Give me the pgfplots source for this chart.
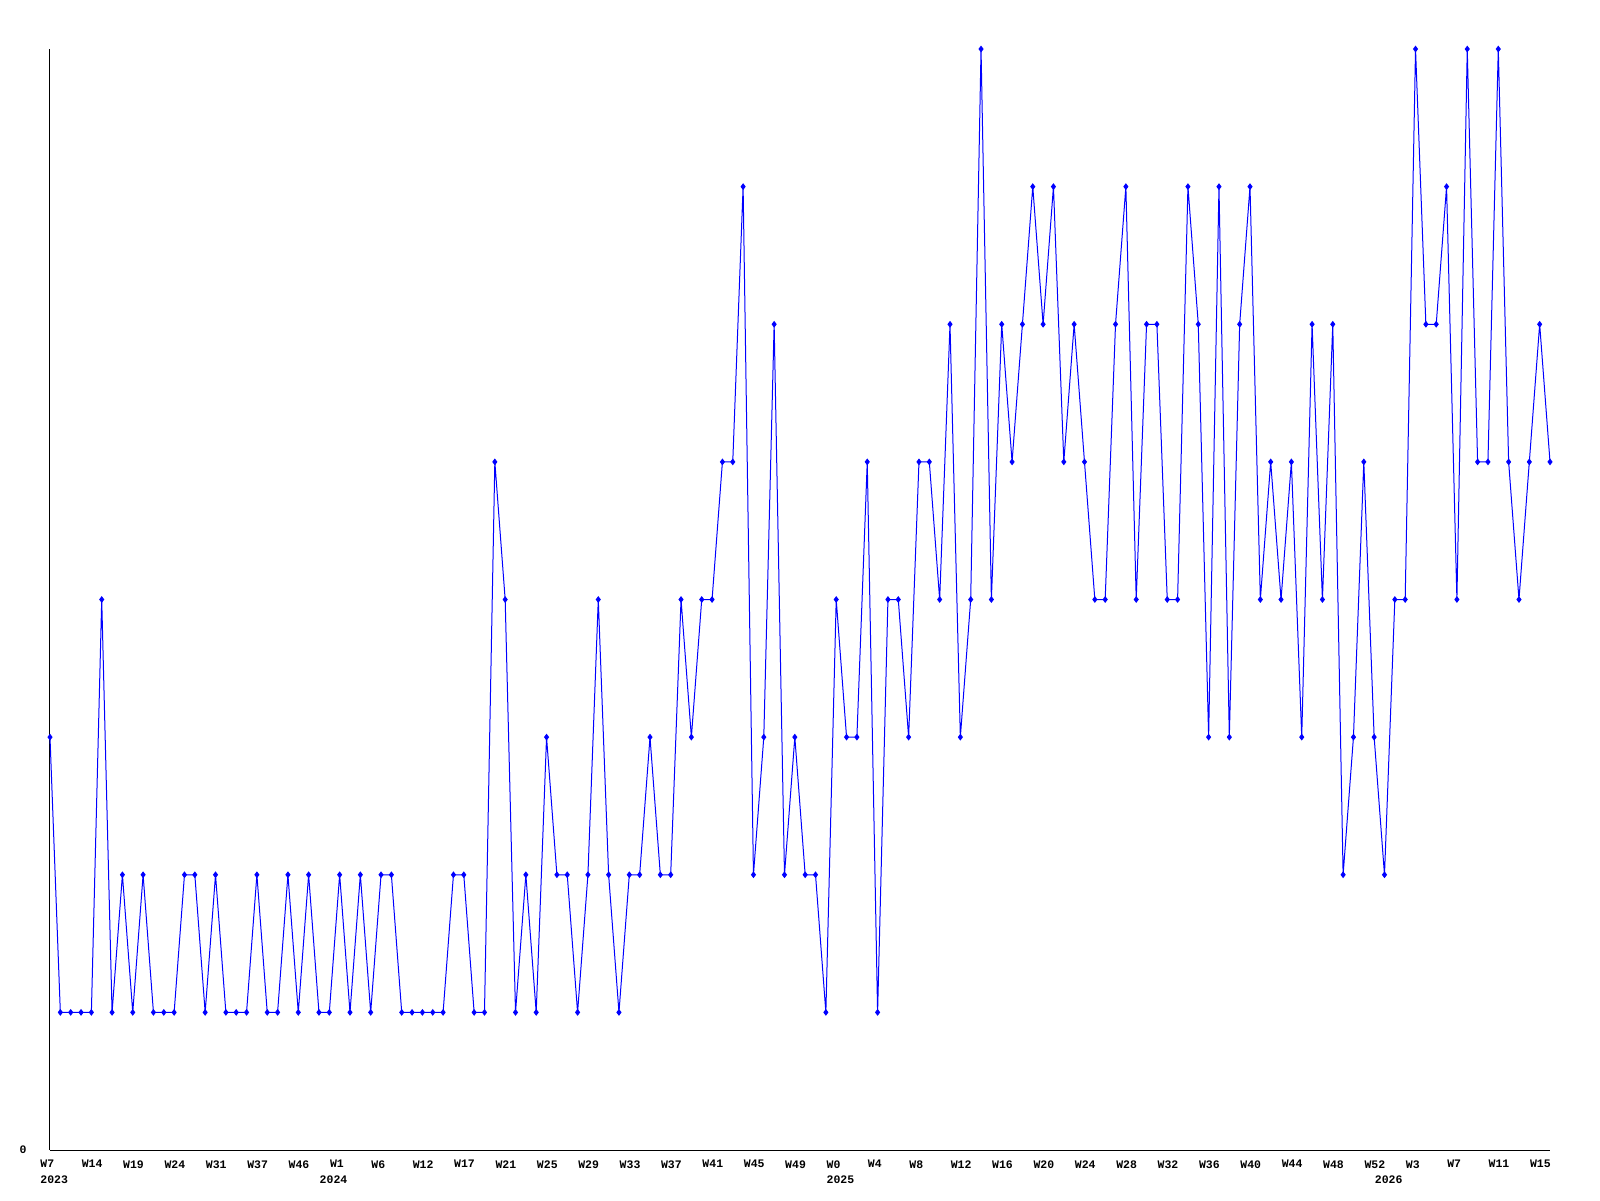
\documentclass[border=0pt]{standalone}
\usepackage{pgfplots}
\pgfplotsset{compat=1.18}
\usepackage{fontspec}
\setmonofont{Liberation Mono}
\newcommand{\lblfont}{\fontsize{5.75pt}{6pt}\selectfont\ttfamily\bfseries}
\begin{document}
\begin{tikzpicture}
\path (-25pt,-25pt) rectangle (775pt,575pt);
\begin{axis}[
  at={(0,0)}, anchor=south west,
  scale only axis,
  width=750pt, height=550.5pt,
  xmin=0, xmax=145, ymin=0, ymax=8,
  enlargelimits=false,
  clip=false,
  axis x line*=bottom, axis y line*=left,
  axis line style={-, black, line width=0.5pt},
  major tick length=0pt,
  /pgf/number format/assume math mode=true,
  xtick={0,4,...,144},
  xticklabels={W7,W14,W19,W24,W31,W37,W46,W1,W6,W12,W17,W21,W25,W29,W33,W37,W41,W45,W49,W0,W4,W8,W12,W16,W20,W24,W28,W32,W36,W40,W44,W48,W52,W3,W7,W11,W15},
  xticklabel style={font=\lblfont, anchor=north west, inner sep=0pt, xshift=-5pt, yshift=-5pt},
  extra x ticks={0,27,76,129},
  extra x tick labels={2023,2024,2025,2026},
  extra x tick style={xticklabel style={yshift=-7.5pt}},
  ytick={0},
  yticklabels={0},
  yticklabel style={font=\lblfont, anchor=center, inner sep=0pt, xshift=-13.5pt},
]
\addplot[color={rgb,255:red,0;green,0;blue,255}, line width=0.5pt, mark=diamond*, mark size=1.3pt] table {
x y
0 3
1 1
2 1
3 1
4 1
5 4
6 1
7 2
8 1
9 2
10 1
11 1
12 1
13 2
14 2
15 1
16 2
17 1
18 1
19 1
20 2
21 1
22 1
23 2
24 1
25 2
26 1
27 1
28 2
29 1
30 2
31 1
32 2
33 2
34 1
35 1
36 1
37 1
38 1
39 2
40 2
41 1
42 1
43 5
44 4
45 1
46 2
47 1
48 3
49 2
50 2
51 1
52 2
53 4
54 2
55 1
56 2
57 2
58 3
59 2
60 2
61 4
62 3
63 4
64 4
65 5
66 5
67 7
68 2
69 3
70 6
71 2
72 3
73 2
74 2
75 1
76 4
77 3
78 3
79 5
80 1
81 4
82 4
83 3
84 5
85 5
86 4
87 6
88 3
89 4
90 8
91 4
92 6
93 5
94 6
95 7
96 6
97 7
98 5
99 6
100 5
101 4
102 4
103 6
104 7
105 4
106 6
107 6
108 4
109 4
110 7
111 6
112 3
113 7
114 3
115 6
116 7
117 4
118 5
119 4
120 5
121 3
122 6
123 4
124 6
125 2
126 3
127 5
128 3
129 2
130 4
131 4
132 8
133 6
134 6
135 7
136 4
137 8
138 5
139 5
140 8
141 5
142 4
143 5
144 6
145 5
};
\end{axis}
\end{tikzpicture}
\end{document}
